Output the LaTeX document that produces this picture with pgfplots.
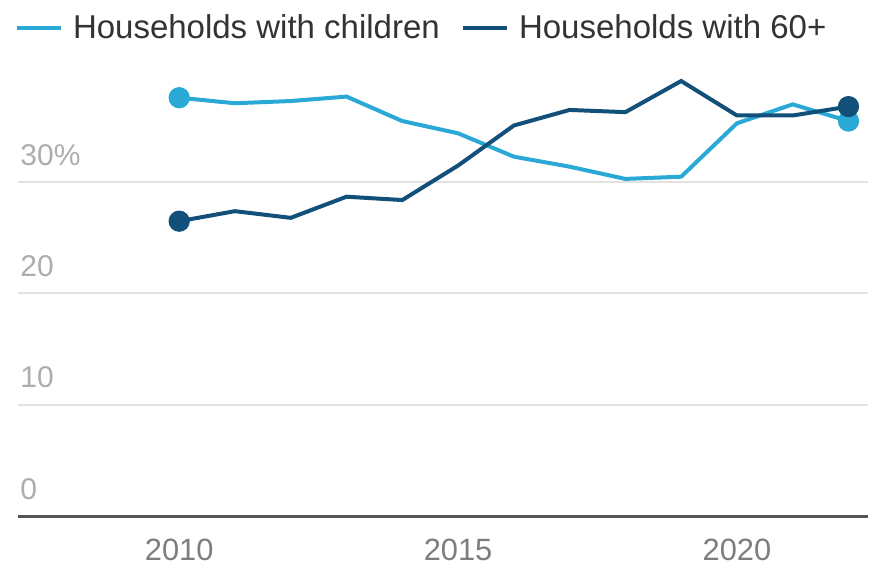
\documentclass[border=0pt]{standalone}
\usepackage{fontspec}
\setmainfont{Liberation Sans}
\usepackage{pgfplots}
\pgfplotsset{compat=1.18}
\definecolor{lightc}{HTML}{2AA8D6}
\definecolor{darkc}{HTML}{12507A}
\definecolor{ygray}{HTML}{ADADAD}
\definecolor{xgray}{HTML}{7D7D7D}
\definecolor{gridc}{HTML}{E2E2E2}
\definecolor{basec}{HTML}{555555}
\definecolor{legc}{HTML}{333333}
\begin{document}
\begin{tikzpicture}
\begin{axis}[
  scale only axis, width=425pt, height=222.5pt,
  xmin=2007.11, xmax=2022.35, ymin=0, ymax=40,
  axis line style={draw=none},
  major tick length=0pt,
  /pgf/number format/assume math mode=true,
  xtick={2010,2015,2020}, xticklabels={2010,2015,2020},
  ytick={0,10,20,30}, yticklabels={0,10,20,30\%},
  ymajorgrids, grid style={gridc, line width=1pt},
  xticklabel style={font=\fontsize{15.4pt}{18pt}\selectfont, text=xgray, anchor=north, yshift=-8pt},
  yticklabel style={font=\fontsize{15pt}{17pt}\selectfont, text=ygray, anchor=base west, inner sep=0pt, yshift=8.5pt, xshift=1pt},
  legend columns=2,
  legend style={draw=none, fill=none, at={(axis description cs:-0.0047,1.137)}, anchor=north west,
    font=\fontsize{16.5pt}{19pt}\selectfont, text=legc, inner sep=0pt,
    /tikz/every odd column/.append style={column sep=3pt},
    /tikz/every even column/.append style={column sep=8.3pt}},
  legend image code/.code={\draw[#1, line width=2.3pt] (0pt,0pt) -- (22pt,0pt);},
  clip=false,
]
\draw[basec, line width=1.5pt] (rel axis cs:0,0) -- (rel axis cs:1,0);
\addplot[lightc, line width=2pt, mark=*, mark size=4.3pt,
  mark indices={1,13}] coordinates {
  (2010,37.6) (2011,37.1) (2012,37.3) (2013,37.7) (2014,35.5) (2015,34.4)
  (2016,32.3) (2017,31.4) (2018,30.3) (2019,30.5) (2020,35.3) (2021,37.0) (2022,35.5)};
\addlegendentry{Households with children}
\addplot[darkc, line width=2pt, mark=*, mark size=4.3pt,
  mark indices={1,13}] coordinates {
  (2010,26.5) (2011,27.4) (2012,26.8) (2013,28.7) (2014,28.4) (2015,31.5)
  (2016,35.1) (2017,36.5) (2018,36.3) (2019,39.1) (2020,36.0) (2021,36.0) (2022,36.8)};
\addlegendentry{Households with 60+}
\coordinate (bl) at (rel axis cs:0,0);
\coordinate (tr) at (rel axis cs:1,1);
\end{axis}
\pgfresetboundingbox
\path ([shift={(-9pt,-25pt)}]bl) rectangle ([shift={(4pt,35.5pt)}]tr);
\end{tikzpicture}
\end{document}
